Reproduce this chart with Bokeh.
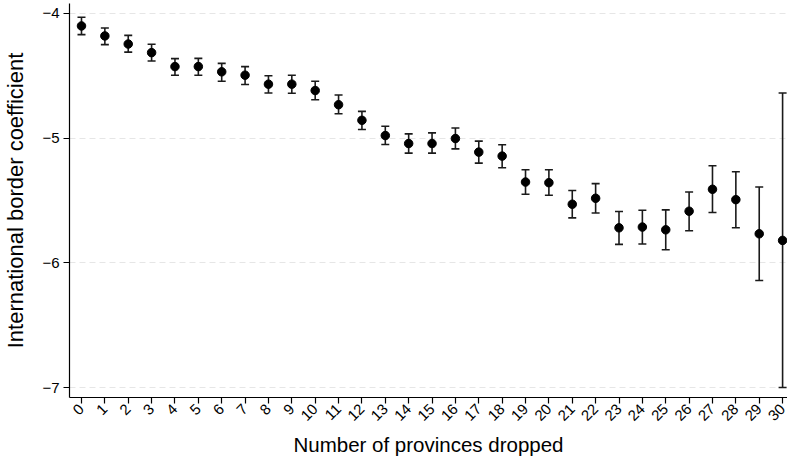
import math
from bokeh.plotting import figure
from bokeh.models import ColumnDataSource, Whisker, TeeHead, FixedTicker, Range1d
from bokeh.embed import file_html
from bokeh.resources import INLINE

provinces_dropped = list(range(31))
coef = [-4.10, -4.18, -4.245, -4.314, -4.426, -4.426, -4.468, -4.495, -4.567, -4.567,
        -4.618, -4.732, -4.857, -4.979, -5.043, -5.043, -5.003, -5.112, -5.144, -5.352,
        -5.357, -5.53, -5.482, -5.719, -5.713, -5.735, -5.586, -5.41, -5.493, -5.767, -5.82]
ci_upper = [-4.03, -4.117, -4.176, -4.247, -4.362, -4.36, -4.40, -4.426, -4.50, -4.495,
            -4.543, -4.654, -4.785, -4.905, -4.966, -4.958, -4.918, -5.024, -5.053, -5.253,
            -5.253, -5.42, -5.365, -5.588, -5.578, -5.575, -5.432, -5.221, -5.269, -5.392, -4.638]
ci_lower = [-4.17, -4.25, -4.31, -4.381, -4.495, -4.495, -4.543, -4.57, -4.638, -4.64,
            -4.692, -4.804, -4.931, -5.051, -5.12, -5.12, -5.086, -5.20, -5.237, -5.45,
            -5.458, -5.639, -5.60, -5.852, -5.849, -5.895, -5.743, -5.596, -5.719, -6.142, -7.0]
y_ticks = [-4, -5, -6, -7]

src = ColumnDataSource(dict(x=provinces_dropped, y=coef, upper=ci_upper, lower=ci_lower))

p = figure(width=787, height=459, output_backend="svg", toolbar_location=None,
           x_range=Range1d(-0.513, 30.21), y_range=Range1d(-7.08, -3.92),
           min_border_left=68, min_border_right=0, min_border_top=3, min_border_bottom=58)
p.outline_line_color = None
p.background_fill_color = "white"

w = Whisker(source=src, base="x", upper="upper", lower="lower",
            line_color="#1a1a1a", line_width=1.6,
            upper_head=TeeHead(size=8, line_color="#1a1a1a", line_width=1.6),
            lower_head=TeeHead(size=8, line_color="#1a1a1a", line_width=1.6))
p.add_layout(w)
p.scatter("x", "y", source=src, size=8.5, color="black")

p.xgrid.grid_line_color = None
p.ygrid.grid_line_color = "#e6e6e6"
p.ygrid.grid_line_dash = "6 4"
p.ygrid.grid_line_width = 1.2
p.ygrid.ticker = FixedTicker(ticks=y_ticks)

p.xaxis.ticker = FixedTicker(ticks=provinces_dropped)
p.xaxis.minor_tick_line_color = None
p.xaxis.major_label_orientation = math.pi / 4
p.xaxis.axis_label = "Number of provinces dropped"
p.yaxis.ticker = FixedTicker(ticks=y_ticks)
p.yaxis.minor_tick_line_color = None
p.yaxis.axis_label = "International border coefficient"

for ax in (p.xaxis[0], p.yaxis[0]):
    ax.axis_line_color = "black"
    ax.axis_line_width = 1.2
    ax.major_tick_line_color = "black"
    ax.major_tick_line_width = 1.2
    ax.major_tick_out = 6
    ax.major_tick_in = 0
    ax.major_label_text_font = "Liberation Sans"
    ax.major_label_text_color = "black"
    ax.axis_label_text_font = "Liberation Sans"
    ax.axis_label_text_font_style = "normal"
    ax.axis_label_text_color = "black"

p.xaxis.major_label_text_font_size = "15px"
p.xaxis.major_label_standoff = 3
p.xaxis.axis_label_text_font_size = "20.5px"
p.xaxis.axis_label_standoff = 5
p.yaxis.major_label_text_font_size = "15px"
p.yaxis.major_label_standoff = 4
p.yaxis.axis_label_text_font_size = "22px"
p.yaxis.axis_label_standoff = 11

open("out.html", "w").write(file_html(p, INLINE))
